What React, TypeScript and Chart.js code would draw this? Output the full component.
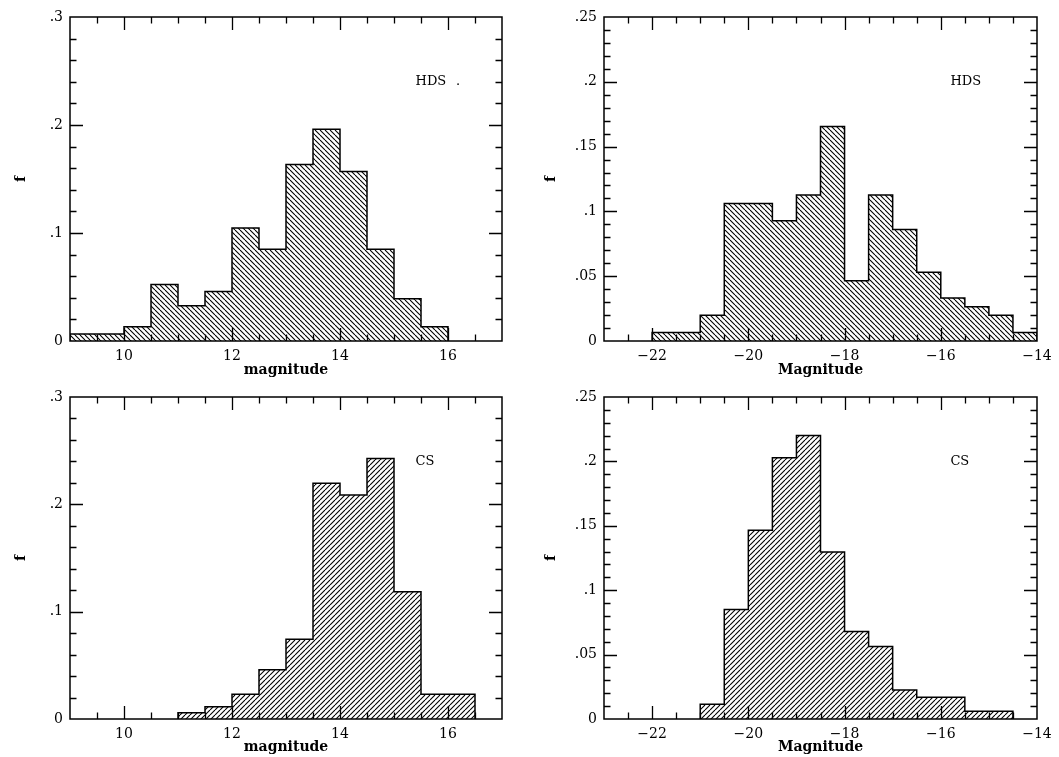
import React, { useEffect, useRef } from "react";
import { Chart, registerables } from "chart.js";

Chart.register(...registerables);

// ---------- DATA ----------
// HDS, apparent magnitude (bin edges and fractions)
const hdsAppEdges = [9, 9.5, 10, 10.5, 11, 11.5, 12, 12.5, 13, 13.5, 14, 14.5, 15, 15.5, 16];
const hdsAppValues = [0.0065, 0.0065, 0.0131, 0.0523, 0.0327, 0.0458, 0.1046, 0.085, 0.1634, 0.196, 0.157, 0.085, 0.0392, 0.0131];

// HDS, absolute magnitude
const hdsAbsEdges = [-22, -21.5, -21, -20.5, -20, -19.5, -19, -18.5, -18, -17.5, -17, -16.5, -16, -15.5, -15, -14.5, -14];
const hdsAbsValues = [0.0066, 0.0066, 0.0199, 0.106, 0.106, 0.0927, 0.1126, 0.1656, 0.0464, 0.1126, 0.0861, 0.053, 0.0331, 0.0265, 0.0199, 0.0066];

// CS, apparent magnitude
const csAppEdges = [11, 11.5, 12, 12.5, 13, 13.5, 14, 14.5, 15, 15.5, 16, 16.5];
const csAppValues = [0.0058, 0.0115, 0.0231, 0.0458, 0.0742, 0.2197, 0.2087, 0.2428, 0.1185, 0.0231, 0.0231];

// CS, absolute magnitude
const csAbsEdges = [-21, -20.5, -20, -19.5, -19, -18.5, -18, -17.5, -17, -16.5, -16, -15.5, -15, -14.5];
const csAbsValues = [0.0115, 0.085, 0.1466, 0.2028, 0.2202, 0.1297, 0.0679, 0.0563, 0.0226, 0.0169, 0.0169, 0.006, 0.006];

// Tick labels
const appXTicks = [10, 12, 14, 16];
const absXTicks = [-22, -20, -18, -16, -14];
const appYTicks = [0, 0.1, 0.2, 0.3];
const absYTicks = [0, 0.05, 0.1, 0.15, 0.2, 0.25];

const appXTitle = "magnitude";
const absXTitle = "Magnitude";
const yTitle = "f";

// ---------- helpers ----------
function fmtX(v: number) {
  return v < 0 ? "\u2212" + Math.abs(v) : String(v);
}
function fmtY(v: number) {
  if (v === 0) return "0";
  return String(v).replace(/^0/, "");
}

function makeHatch(ctx: CanvasRenderingContext2D, dir: "back" | "fwd") {
  const s = 5;
  const c = document.createElement("canvas");
  c.width = s;
  c.height = s;
  const g = c.getContext("2d")!;
  g.fillStyle = "#fff";
  g.fillRect(0, 0, s, s);
  g.strokeStyle = "#000";
  g.lineWidth = 1.1;
  for (const k of [-s, 0, s]) {
    g.beginPath();
    if (dir === "back") {
      g.moveTo(k, 0);
      g.lineTo(k + s, s);
    } else {
      g.moveTo(k + s, 0);
      g.lineTo(k, s);
    }
    g.stroke();
  }
  return ctx.createPattern(c, "repeat");
}

const frameTicks = {
  id: "frameTicks",
  afterDatasetsDraw(chart: any, _args: any, opts: any) {
    const { ctx, chartArea } = chart;
    const { left, right, top, bottom } = chartArea;
    const x = chart.scales.x;
    const y = chart.scales.y;
    ctx.save();
    ctx.strokeStyle = "#000";
    ctx.lineWidth = 1.5;
    ctx.strokeRect(left, top, right - left, bottom - top);
    ctx.lineWidth = 1.3;
    const isMajor = (v: number, m: number) => Math.abs(v / m - Math.round(v / m)) < 1e-6;
    const majLen = 13;
    const minLen = 6.5;
    const nx = Math.round((x.max - x.min) / opts.xMinor);
    for (let i = 1; i < nx; i++) {
      const v = x.min + i * opts.xMinor;
      const px = Math.round(x.getPixelForValue(v)) + 0.5;
      const len = isMajor(v, opts.xMajor) ? majLen : minLen;
      ctx.beginPath();
      ctx.moveTo(px, bottom);
      ctx.lineTo(px, bottom - len);
      ctx.moveTo(px, top);
      ctx.lineTo(px, top + len);
      ctx.stroke();
    }
    const ny = Math.round((y.max - y.min) / opts.yMinor);
    for (let i = 1; i < ny; i++) {
      const v = y.min + i * opts.yMinor;
      const py = Math.round(y.getPixelForValue(v)) + 0.5;
      const len = isMajor(v, opts.yMajor) ? majLen : minLen;
      ctx.beginPath();
      ctx.moveTo(left, py);
      ctx.lineTo(left + len, py);
      ctx.moveTo(right, py);
      ctx.lineTo(right - len, py);
      ctx.stroke();
    }
    ctx.fillStyle = "#000";
    ctx.font = "13px 'DejaVu Serif'";
    ctx.textAlign = "left";
    ctx.textBaseline = "middle";
    ctx.fillText(opts.label, x.getPixelForValue(opts.labelX), y.getPixelForValue(opts.labelY));
    if (opts.dotX !== undefined) {
      ctx.fillText(".", x.getPixelForValue(opts.dotX), y.getPixelForValue(opts.labelY));
    }
    ctx.restore();
  },
};

type PanelProps = {
  left: number;
  top: number;
  width: number;
  height: number;
  yAxisWidth: number;
  xAxisHeight: number;
  padRight: number;
  padTop: number;
  edges: number[];
  values: number[];
  xMin: number;
  xMax: number;
  yMax: number;
  xTicks: number[];
  yTicks: number[];
  xMinor: number;
  xMajor: number;
  yMinor: number;
  yMajor: number;
  xTitle: string;
  hatch: "back" | "fwd";
  label: string;
  labelX: number;
  labelY: number;
  dotX?: number;
};

function Panel(p: PanelProps) {
  const ref = useRef<HTMLCanvasElement | null>(null);
  useEffect(() => {
    const canvas = ref.current!;
    const ctx = canvas.getContext("2d")!;
    const pts: { x: number; y: number }[] = [];
    pts.push({ x: p.edges[0], y: 0 });
    for (let i = 0; i < p.values.length; i++) pts.push({ x: p.edges[i], y: p.values[i] });
    pts.push({ x: p.edges[p.edges.length - 1], y: 0 });
    const pattern = makeHatch(ctx, p.hatch);
    const tickFont = { family: "'DejaVu Serif'", size: 14 };
    const titleFont = { family: "'DejaVu Serif'", size: 14, weight: "bold" as const };
    const chart = new Chart(ctx, {
      type: "line",
      data: {
        datasets: [
          {
            data: pts,
            stepped: "before",
            fill: "origin",
            backgroundColor: pattern as any,
            borderColor: "#000",
            borderWidth: 1.5,
            pointRadius: 0,
            tension: 0,
          },
        ],
      },
      options: {
        responsive: false,
        animation: false,
        devicePixelRatio: 1,
        layout: { padding: { left: 0, top: p.padTop, right: p.padRight, bottom: 0 } },
        plugins: {
          legend: { display: false },
          tooltip: { enabled: false },
          frameTicks: {
            xMinor: p.xMinor,
            xMajor: p.xMajor,
            yMinor: p.yMinor,
            yMajor: p.yMajor,
            label: p.label,
            labelX: p.labelX,
            labelY: p.labelY,
            dotX: p.dotX,
          },
        } as any,
        scales: {
          x: {
            type: "linear",
            min: p.xMin,
            max: p.xMax,
            grid: { display: false, drawTicks: false },
            border: { display: false },
            afterBuildTicks: (s: any) => {
              s.ticks = p.xTicks.map((v) => ({ value: v }));
            },
            afterFit: (s: any) => {
              s.height = p.xAxisHeight;
            },
            ticks: {
              color: "#000",
              font: tickFont,
              padding: 7,
              maxRotation: 0,
              autoSkip: false,
              callback: (v: any) => fmtX(Number(v)),
            },
            title: {
              display: true,
              text: p.xTitle,
              color: "#000",
              font: titleFont,
              padding: { top: 0, bottom: 1 },
            },
          },
          y: {
            type: "linear",
            min: 0,
            max: p.yMax,
            grid: { display: false, drawTicks: false },
            border: { display: false },
            afterBuildTicks: (s: any) => {
              s.ticks = p.yTicks.map((v) => ({ value: v }));
            },
            afterFit: (s: any) => {
              s.width = p.yAxisWidth;
            },
            ticks: {
              color: "#000",
              font: tickFont,
              padding: 7,
              autoSkip: false,
              callback: (v: any) => fmtY(Number(v)),
            },
            title: {
              display: true,
              text: yTitle,
              color: "#000",
              font: titleFont,
              padding: { top: 12.6, bottom: 0 },
            },
          },
        },
      },
      plugins: [frameTicks as any],
    });
    return () => chart.destroy();
  }, []);
  return (
    <canvas
      ref={ref}
      width={p.width}
      height={p.height}
      style={{ position: "absolute", left: p.left, top: p.top, width: p.width, height: p.height, display: "block" }}
    />
  );
}

export default function App() {
  return (
    <div style={{ position: "absolute", left: 0, top: 0, width: 1059, height: 757, background: "#fff" }}>
      <Panel
        left={0} top={0} width={530} height={380}
        yAxisWidth={70} xAxisHeight={39} padRight={28} padTop={17}
        edges={hdsAppEdges} values={hdsAppValues}
        xMin={9} xMax={17} yMax={0.3}
        xTicks={appXTicks} yTicks={appYTicks}
        xMinor={0.5} xMajor={2} yMinor={0.02} yMajor={0.1}
        xTitle={appXTitle} hatch="back"
        label="HDS" labelX={15.4} labelY={0.24} dotX={16.15}
      />
      <Panel
        left={530} top={0} width={529} height={380}
        yAxisWidth={74} xAxisHeight={39} padRight={22} padTop={17}
        edges={hdsAbsEdges} values={hdsAbsValues}
        xMin={-23} xMax={-14} yMax={0.25}
        xTicks={absXTicks} yTicks={absYTicks}
        xMinor={0.5} xMajor={2} yMinor={0.01} yMajor={0.05}
        xTitle={absXTitle} hatch="back"
        label="HDS" labelX={-15.8} labelY={0.2}
      />
      <Panel
        left={0} top={380} width={530} height={377}
        yAxisWidth={70} xAxisHeight={38} padRight={28} padTop={17}
        edges={csAppEdges} values={csAppValues}
        xMin={9} xMax={17} yMax={0.3}
        xTicks={appXTicks} yTicks={appYTicks}
        xMinor={0.5} xMajor={2} yMinor={0.02} yMajor={0.1}
        xTitle={appXTitle} hatch="fwd"
        label="CS" labelX={15.4} labelY={0.24}
      />
      <Panel
        left={530} top={380} width={529} height={377}
        yAxisWidth={74} xAxisHeight={38} padRight={22} padTop={17}
        edges={csAbsEdges} values={csAbsValues}
        xMin={-23} xMax={-14} yMax={0.25}
        xTicks={absXTicks} yTicks={absYTicks}
        xMinor={0.5} xMajor={2} yMinor={0.01} yMajor={0.05}
        xTitle={absXTitle} hatch="fwd"
        label="CS" labelX={-15.8} labelY={0.2}
      />
    </div>
  );
}
